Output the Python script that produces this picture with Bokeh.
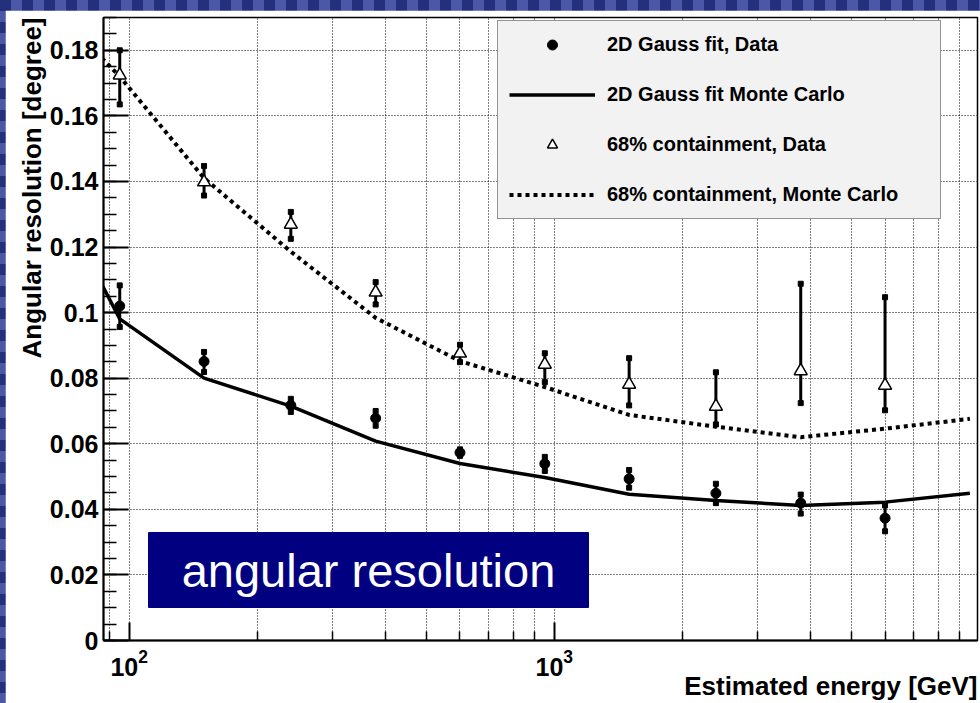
import numpy as np
from bokeh.plotting import figure
from bokeh.models import FixedTicker, Legend, LegendItem, BoxAnnotation, Label, Title
from bokeh.layouts import column
from bokeh.embed import file_html
from bokeh.resources import INLINE

# Bin centres of the estimated energy [GeV]
energy = [95, 150, 240, 380, 600, 950, 1500, 2400, 3800, 6000]

# 2D Gauss fit, data (with asymmetric errors)
gauss_data = [0.1020, 0.0851, 0.0717, 0.0678, 0.0573, 0.0539, 0.0493, 0.0449, 0.0419, 0.0373]
gauss_err_up = [0.0063, 0.0029, 0.0020, 0.0022, 0.0010, 0.0021, 0.0027, 0.0029, 0.0026, 0.0039]
gauss_err_down = [0.0064, 0.0032, 0.0020, 0.0023, 0.0010, 0.0022, 0.0027, 0.0030, 0.0032, 0.0040]

# 68% containment radius, data (with asymmetric errors)
cont_data = [0.1724, 0.1398, 0.1269, 0.1062, 0.0876, 0.0842, 0.0781, 0.0714, 0.0822, 0.0778]
cont_err_up = [0.0076, 0.0049, 0.0038, 0.0031, 0.0026, 0.0034, 0.0080, 0.0104, 0.0266, 0.0269]
cont_err_down = [0.0089, 0.0041, 0.0044, 0.0037, 0.0027, 0.0054, 0.0064, 0.0055, 0.0098, 0.0076]

# Monte Carlo expectations
mc_energy = [60, 95, 150, 240, 380, 600, 950, 1500, 2400, 3800, 6000, 9500]
gauss_mc = [0.1476, 0.0981, 0.0800, 0.0715, 0.0608, 0.0540, 0.0497, 0.0446, 0.0427, 0.0412, 0.0422, 0.0449]
cont_mc = [0.1986, 0.1720, 0.1410, 0.1186, 0.0984, 0.0852, 0.0773, 0.0688, 0.0652, 0.0620, 0.0646, 0.0676]

# Axis ticks
y_ticks = [0, 0.02, 0.04, 0.06, 0.08, 0.1, 0.12, 0.14, 0.16, 0.18]
y_tick_labels = ["0", "0.02", "0.04", "0.06", "0.08", "0.1", "0.12", "0.14", "0.16", "0.18"]
x_ticks = [100, 1000]
x_minor_ticks = [90, 200, 300, 400, 500, 600, 700, 800, 900,
                 2000, 3000, 4000, 5000, 6000, 7000, 8000, 9000]

FONT = "Liberation Sans"

p = figure(width=975, height=693, x_axis_type="log",
           x_range=(87, 9900), y_range=(0, 0.19),
           output_backend="svg", toolbar_location=None, title=None,
           min_border_left=98, min_border_right=3,
           min_border_top=7, min_border_bottom=63)
p.margin = (10, 0, 0, 5)
p.background_fill_color = "white"
p.border_fill_color = "white"
p.outline_line_color = "black"
p.outline_line_width = 1.5

# axes
y_minor = [round(v, 3) for v in np.arange(0, 0.1901, 0.005)]
p.yaxis.ticker = FixedTicker(ticks=y_ticks, minor_ticks=y_minor)
p.ygrid.ticker = FixedTicker(ticks=y_ticks)
p.yaxis.major_label_overrides = {t: s for t, s in zip(y_ticks, y_tick_labels)}
p.xaxis.ticker = FixedTicker(ticks=x_ticks, minor_ticks=x_minor_ticks)
p.xgrid.ticker = FixedTicker(ticks=x_ticks, minor_ticks=x_minor_ticks)

for ax in (p.xaxis[0], p.yaxis[0]):
    ax.axis_line_color = "black"
    ax.axis_line_width = 2
    ax.major_tick_line_color = "black"
    ax.major_tick_line_width = 2
    ax.minor_tick_line_color = "black"
    ax.minor_tick_line_width = 1.5
    ax.major_tick_out = 0
    ax.minor_tick_out = 0
    ax.major_label_text_font = FONT
    ax.major_label_text_font_style = "bold"
    ax.major_label_text_font_size = "25px"
    ax.major_label_text_color = "black"

p.yaxis.major_tick_in = 25
p.yaxis.minor_tick_in = 13
p.yaxis.major_label_standoff = 5

p.xaxis.major_tick_in = 18
p.xaxis.minor_tick_in = 9
p.xaxis.major_label_standoff = 8

# axis titles, flush with the far end of each axis
x_title = Title(text="Estimated energy [GeV]", align="right", standoff=-20,
                text_font=FONT, text_font_style="bold", text_font_size="26px",
                text_color="black")
y_title = Title(text="Angular resolution [degree]", align="right", standoff=0,
                text_font=FONT, text_font_style="bold", text_font_size="26px",
                text_color="black")
p.add_layout(x_title, "below")
p.add_layout(y_title, "left")

# dotted grid
for g in (p.xgrid[0], p.ygrid[0]):
    g.grid_line_color = "black"
    g.grid_line_width = 1
    g.grid_line_dash = "1 2"
p.xgrid.minor_grid_line_color = "black"
p.xgrid.minor_grid_line_width = 1
p.xgrid.minor_grid_line_dash = "1 2"

# Monte Carlo curves
r_gmc = p.line(mc_energy, gauss_mc, line_color="black", line_width=3.5)
r_cmc = p.line(mc_energy, cont_mc, line_color="black", line_width=4, line_dash="4 4")

# error bars
g_lo = [v - e for v, e in zip(gauss_data, gauss_err_down)]
g_hi = [v + e for v, e in zip(gauss_data, gauss_err_up)]
c_lo = [v - e for v, e in zip(cont_data, cont_err_down)]
c_hi = [v + e for v, e in zip(cont_data, cont_err_up)]

p.segment(energy, g_lo, energy, g_hi, line_color="black", line_width=3)
p.segment(energy, c_lo, energy, c_hi, line_color="black", line_width=3)
for ends in (g_lo, g_hi, c_lo, c_hi):
    p.scatter(energy, ends, marker="square", size=5, fill_color="black", line_color="black")

# data points
r_gd = p.scatter(energy, gauss_data, marker="circle", size=10,
                 fill_color="black", line_color="black")
r_cd = p.scatter(energy, cont_data, marker="triangle", size=13,
                 fill_color="white", line_color="black", line_width=1.5)

legend = Legend(items=[
    LegendItem(label="2D Gauss fit, Data", renderers=[r_gd]),
    LegendItem(label="2D Gauss fit Monte Carlo", renderers=[r_gmc]),
    LegendItem(label="68% containment, Data", renderers=[r_cd]),
    LegendItem(label="68% containment, Monte Carlo", renderers=[r_cmc]),
], location=(394, 421))
legend.padding = 11
legend.spacing = 25
legend.glyph_width = 86
legend.glyph_height = 25
legend.label_height = 25
legend.label_width = 322
legend.label_standoff = 12
legend.label_text_font = FONT
legend.label_text_font_style = "bold"
legend.label_text_font_size = "20px"
legend.label_text_color = "black"
legend.background_fill_color = "#f2f2f2"
legend.background_fill_alpha = 1
legend.border_line_color = "#333333"
legend.border_line_width = 1
legend.margin = 0
p.add_layout(legend)

# caption box (screen offsets from the frame's lower-left corner)
caption_box = BoxAnnotation(left=45, right=485, bottom=33, top=108,
                            left_units="screen", right_units="screen",
                            bottom_units="screen", top_units="screen",
                            fill_color="#000080", fill_alpha=1,
                            line_color="#000080", line_alpha=1, level="overlay")
p.add_layout(caption_box)
caption = Label(x=265, y=70, x_units="screen", y_units="screen",
                text="angular resolution", text_font=FONT, text_font_size="47px",
                text_color="white", text_align="center", text_baseline="middle",
                level="overlay")
p.add_layout(caption)

page = column(p, styles={
    "background-color": "#25307c",
    "background-image": "repeating-conic-gradient(#4b58a8 0% 25%, transparent 0% 50%)",
    "background-size": "22px 22px",
})

open("out.html", "w").write(file_html(page, INLINE))
